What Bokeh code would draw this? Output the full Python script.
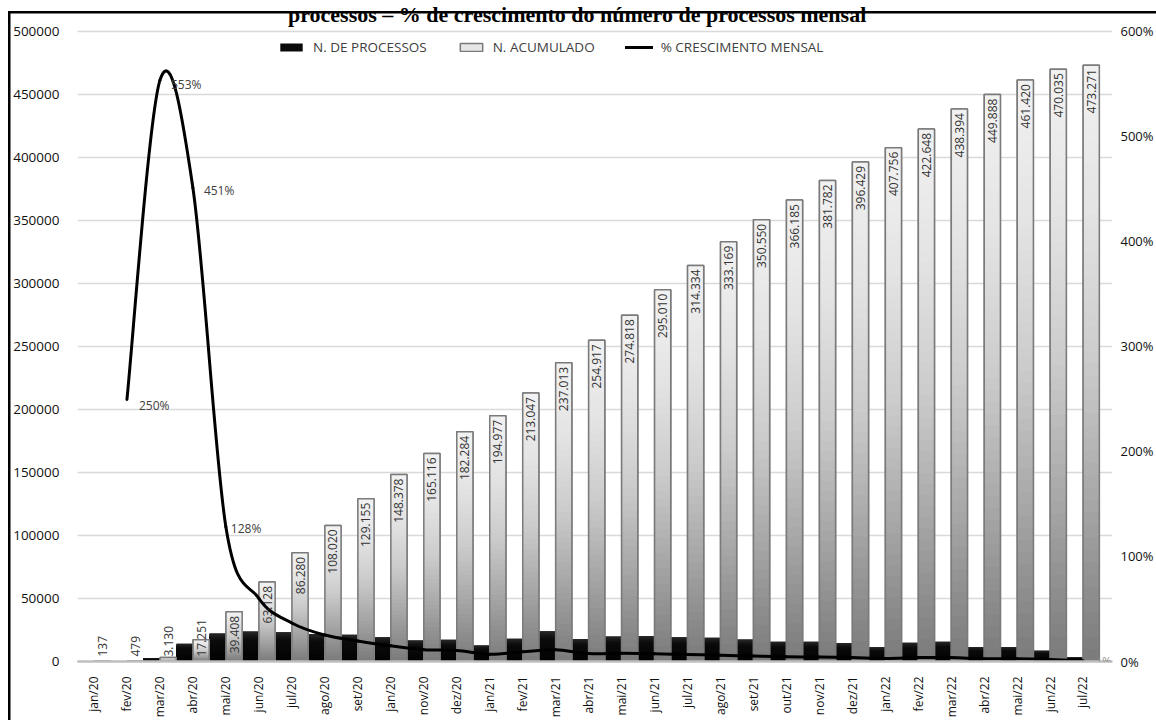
import math

from bokeh.core.properties import value
from bokeh.embed import file_html
from bokeh.models import (ColumnDataSource, FixedTicker, Label, Legend,
                          LegendItem, LinearAxis, PrintfTickFormatter, Range1d)
from bokeh.plotting import figure
from bokeh.resources import INLINE

# ---------------------------------------------------------------- data
meses = ["jan/20", "fev/20", "mar/20", "abr/20", "mai/20", "jun/20", "jul/20",
         "ago/20", "set/20", "jan/20", "nov/20", "dez/20", "jan/21", "fev/21",
         "mar/21", "abr/21", "mai/21", "jun/21", "jul/21", "ago/21", "set/21",
         "out/21", "nov/21", "dez/21", "jan/22", "fev/22", "mar/22", "abr/22",
         "mai/22", "jun/22", "jul/22"]

n_processos = [137, 342, 2651, 14121, 22157, 23720, 23152, 21740, 21135, 19223,
               16738, 17168, 12693, 18070, 23966, 17904, 19901, 20192, 19324,
               18835, 17381, 15635, 15597, 14647, 11327, 14892, 15746, 11494,
               11532, 8615, 3236]

n_acumulado = [137, 479, 3130, 17251, 39408, 63128, 86280, 108020, 129155,
               148378, 165116, 182284, 194977, 213047, 237013, 254917, 274818,
               295010, 314334, 333169, 350550, 366185, 381782, 396429, 407756,
               422648, 438394, 449888, 461420, 470035, 473271]

# monthly growth (%); the first month has no previous month to compare with
crescimento = [None, 249.6, 553.4, 451.1, 128.4, 60.2, 36.7, 25.2, 19.6, 14.9,
               11.3, 10.4, 7.0, 9.3, 11.2, 7.6, 7.8, 7.3, 6.6, 6.0, 5.2, 4.5,
               4.3, 3.8, 2.9, 3.7, 3.7, 2.6, 2.6, 1.9, 0.7]

# months whose growth value is written next to the line
rotulos_crescimento = ["fev/20", "mar/20", "abr/20", "mai/20", "jul/22"]

eixo_esq = [0, 50000, 100000, 150000, 200000, 250000, 300000, 350000, 400000,
            450000, 500000]
eixo_dir = [0, 100, 200, 300, 400, 500, 600]

titulo = "processos – % de crescimento do número de processos mensal"

# ---------------------------------------------------------------- layout
W, H = 1156, 720
BORDER_L, BORDER_R, BORDER_T, BORDER_B = 77, 37, 0, 58
CAT_PX = 33.19                    # width of one month slot in pixels
FRAME_H = H - BORDER_T - BORDER_B
FRAME_W = W - BORDER_L - BORDER_R
N = len(meses)
X_END = -0.5 + FRAME_W / CAT_PX   # a little room right of the last month
# top gridline sits 31 px under the top of the plotting area on both axes
Y_END = eixo_esq[-1] * FRAME_H / (FRAME_H - 31)
PCT_END = eixo_dir[-1] * FRAME_H / (FRAME_H - 31)
UNITS_PX = Y_END / FRAME_H

FONT = value("Open Sans")

p = figure(width=W, height=H, x_range=Range1d(-0.5, X_END),
           y_range=Range1d(0, Y_END), output_backend="svg",
           toolbar_location=None, min_border_left=BORDER_L,
           min_border_right=BORDER_R, min_border_top=BORDER_T,
           min_border_bottom=BORDER_B)
p.extra_y_ranges = {"pct": Range1d(0, PCT_END)}
p.outline_line_color = None
# canvas left transparent: the page background paints white plus the black
# frame (left and top sides) around the chart
p.background_fill_color = None
p.border_fill_color = None
p.styles = {
    "background-color": "white",
    "background-image": "linear-gradient(#000, #000), linear-gradient(#000, #000)",
    "background-size": "2.5px 100%, 100% 2.5px",
    "background-position": "8px 11px, 8px 11px",
    "background-repeat": "no-repeat",
}
p.xgrid.grid_line_color = None
p.ygrid.grid_line_color = "#d9d9d9"
p.ygrid.grid_line_width = 1.5
p.ygrid.ticker = FixedTicker(ticks=eixo_esq)

# x axis: month labels, rotated
xa = p.xaxis[0]
xa.ticker = FixedTicker(ticks=list(range(N)))
xa.major_label_overrides = {i: m for i, m in enumerate(meses)}
xa.major_label_orientation = math.pi / 2
xa.major_label_text_font = "Open Sans"
xa.major_label_text_font_size = "12px"
xa.major_label_text_color = "#111111"
xa.major_label_standoff = 9
xa.axis_line_color = "#bfbfbf"
xa.axis_line_width = 2.5
xa.major_tick_line_color = None
xa.minor_tick_line_color = None

# left axis: number of processes
ya = p.yaxis[0]
ya.ticker = FixedTicker(ticks=eixo_esq)
ya.formatter = PrintfTickFormatter(format="%d")
ya.major_label_text_font = "Open Sans"
ya.major_label_text_font_size = "13.5px"
ya.major_label_text_color = "#111111"
ya.major_label_standoff = 12
ya.axis_line_color = None
ya.major_tick_line_color = None
ya.minor_tick_line_color = None

# right axis: monthly growth
ra = LinearAxis(y_range_name="pct", ticker=FixedTicker(ticks=eixo_dir),
                formatter=PrintfTickFormatter(format="%d%%"))
ra.major_label_text_font = "Open Sans"
ra.major_label_text_font_size = "13px"
ra.major_label_text_color = "#111111"
ra.major_label_standoff = 2
ra.axis_line_color = None
ra.major_tick_line_color = None
ra.minor_tick_line_color = None
p.add_layout(ra, "right")

# ---------------------------------------------------------------- bars
BW = 0.49
x_proc = [i - 0.25 for i in range(N)]
x_acum = [i + 0.25 for i in range(N)]


def shade(t, stops):
    for (t0, c0), (t1, c1) in zip(stops, stops[1:]):
        if t <= t1:
            f = (t - t0) / (t1 - t0)
            g = round(c0 + (c1 - c0) * f)
            return "#%02x%02x%02x" % (g, g, g)
    g = stops[-1][1]
    return "#%02x%02x%02x" % (g, g, g)


GRAY_STOPS = [(0.0, 122), (0.25, 164), (0.5, 203), (0.75, 227), (1.0, 242)]
DARK_STOPS = [(0.0, 2), (0.75, 12), (1.0, 40)]
SLICES = 48


def gradient_source(xs, vals, stops):
    # each band starts at the baseline; the lighter, taller bands are drawn
    # first so the darker ones stacked on top leave no seams between bands
    d = dict(left=[], right=[], top=[], color=[])
    for x, v in zip(xs, vals):
        for k in reversed(range(SLICES)):
            d["left"].append(x - BW / 2)
            d["right"].append(x + BW / 2)
            d["top"].append(v * (k + 1) / SLICES)
            d["color"].append(shade((k + 0.5) / SLICES, stops))
    return ColumnDataSource(d)


# monthly bars (black)
base_proc = p.vbar(x=x_proc, top=n_processos, width=BW, fill_color="#0a0a0a",
                   line_color=None)
p.quad(left="left", right="right", bottom=0, top="top",
       fill_color="color", line_color=None,
       source=gradient_source(x_proc, n_processos, DARK_STOPS))

# cumulative bars (gray gradient with outline)
base_acum = p.vbar(x=x_acum, top=n_acumulado, width=BW, fill_color="#e6e6e6",
                   line_color="#7a7a7a", line_width=1.5)
p.quad(left="left", right="right", bottom=0, top="top",
       fill_color="color", line_color=None,
       source=gradient_source(x_acum, n_acumulado, GRAY_STOPS))
p.vbar(x=x_acum, top=n_acumulado, width=BW, fill_color=None,
       line_color="#7a7a7a", line_width=1.5)

# value labels on cumulative bars (Portuguese thousands separator)
lab_in = dict(x=[], y=[], text=[])
lab_out = dict(x=[], y=[], text=[])
for x, v in zip(x_acum, n_acumulado):
    txt = f"{v:,}".replace(",", ".")
    if v / UNITS_PX > len(txt) * 6.6 + 9:
        lab_in["x"].append(x)
        lab_in["y"].append(v - 4 * UNITS_PX)
        lab_in["text"].append(txt)
    else:
        lab_out["x"].append(x)
        lab_out["y"].append(5 * UNITS_PX)
        lab_out["text"].append(txt)

for src, align in ((lab_in, "right"), (lab_out, "left")):
    p.text(x="x", y="y", text="text", source=ColumnDataSource(src),
           angle=math.pi / 2, text_align=align, text_baseline="middle",
           text_font=FONT, text_font_size="12px", text_color="#333333")

# ---------------------------------------------------------------- growth line
pts = [(i, v) for i, v in enumerate(crescimento) if v is not None]
bz = dict(x0=[], y0=[], x1=[], y1=[], cx0=[], cy0=[], cx1=[], cy1=[])
for k in range(len(pts) - 1):
    a = pts[k - 1] if k > 0 else pts[k]
    b, c = pts[k], pts[k + 1]
    d = pts[k + 2] if k + 2 < len(pts) else pts[k + 1]
    bz["x0"].append(b[0]); bz["y0"].append(b[1])
    bz["x1"].append(c[0]); bz["y1"].append(c[1])
    bz["cx0"].append(b[0] + (c[0] - a[0]) / 6)
    bz["cy0"].append(b[1] + (c[1] - a[1]) / 6)
    bz["cx1"].append(c[0] - (d[0] - b[0]) / 6)
    bz["cy1"].append(c[1] - (d[1] - b[1]) / 6)
linha = p.bezier(x0="x0", y0="y0", x1="x1", y1="y1", cx0="cx0", cy0="cy0",
                 cx1="cx1", cy1="cy1", source=ColumnDataSource(bz),
                 y_range_name="pct", line_color="black", line_width=3,
                 line_cap="round", line_join="round")

label_style = {
    "fev/20": dict(x_offset=12, y_offset=-6),
    "mar/20": dict(x_offset=11, y_offset=-4),
    "abr/20": dict(x_offset=11, y_offset=-3),
    "mai/20": dict(x_offset=5, y_offset=-2),
    "jul/22": dict(x_offset=13, y_offset=0, text_font_size="11px",
                   text_color="#8a8a8a"),
}
for m in rotulos_crescimento:
    i = meses.index(m)
    v = crescimento[i]
    st = dict(text_font="Open Sans", text_font_size="12px",
              text_color="#404040", text_baseline="middle", text_align="left")
    st.update(label_style[m])
    p.add_layout(Label(x=i, y=v, y_range_name="pct", text=f"{round(v)}%",
                       level="overlay", **st))

# ---------------------------------------------------------------- legend
legend = Legend(items=[LegendItem(label="N. DE PROCESSOS", renderers=[base_proc]),
                       LegendItem(label="N. ACUMULADO", renderers=[base_acum]),
                       LegendItem(label="% CRESCIMENTO MENSAL", renderers=[linha])],
                orientation="horizontal", location=(200, FRAME_H - 38 - 20),
                border_line_color=None, background_fill_alpha=0,
                label_text_font="Open Sans", label_text_font_size="13.5px",
                label_text_color="#404040", glyph_width=28, glyph_height=10,
                label_height=20, label_standoff=8, spacing=30, padding=0,
                margin=0)
p.add_layout(legend)

# ---------------------------------------------------------------- title
p.add_layout(Label(x=-0.5 + (580 - BORDER_L) / CAT_PX,
                   y=Y_END - 14 * UNITS_PX, text=titulo, text_align="center",
                   text_baseline="alphabetic", text_font="Liberation Serif",
                   text_font_style="bold", text_font_size="22px",
                   text_color="black"))

open("out.html", "w").write(file_html(p, INLINE))
